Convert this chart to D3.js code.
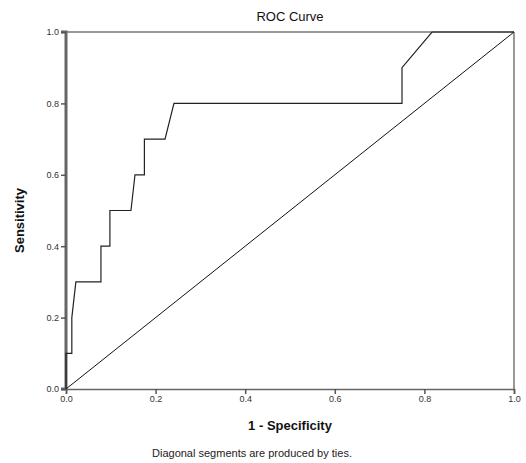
<!DOCTYPE html>
<html>
<head>
<meta charset="utf-8">
<script src="https://cdnjs.cloudflare.com/ajax/libs/d3/7.8.5/d3.min.js"></script>
<style>
  body { margin: 0; background: #fff; }
  text { font-family: Arial, "Liberation Sans", sans-serif; }
</style>
</head>
<body>
<div id="chart"></div>
<script>
// ROC curve points (1 - specificity, sensitivity)
var fpr = [0, 0, 0.013, 0.013, 0.022, 0.078, 0.078, 0.098, 0.098, 0.145, 0.154, 0.175, 0.175, 0.221, 0.241, 0.75, 0.75, 0.817, 1];
var tpr = [0, 0.1, 0.1, 0.2, 0.3, 0.3, 0.4, 0.4, 0.5, 0.5, 0.6, 0.6, 0.7, 0.7, 0.8, 0.8, 0.9, 1.0, 1.0];
var ticks = [0, 0.2, 0.4, 0.6, 0.8, 1.0];

var attrs = {
  width: 526,
  height: 463,
  margin: { top: 32, right: 12, bottom: 74, left: 66 }
};

var chartWidth = attrs.width - attrs.margin.left - attrs.margin.right;
var chartHeight = attrs.height - attrs.margin.top - attrs.margin.bottom;

var svg = d3.select('#chart').append('svg')
  .attr('width', attrs.width)
  .attr('height', attrs.height);

var chart = svg.append('g')
  .attr('transform', `translate(${attrs.margin.left}, ${attrs.margin.top})`);

var x = d3.scaleLinear().domain([0, 1]).range([0, chartWidth]);
var y = d3.scaleLinear().domain([0, 1]).range([chartHeight, 0]);

// frame
chart.append('line').attr('x1', 0).attr('x2', chartWidth).attr('y1', 0).attr('y2', 0)
  .attr('stroke', '#777').attr('stroke-width', 1.5);
chart.append('line').attr('x1', chartWidth).attr('x2', chartWidth).attr('y1', 0).attr('y2', chartHeight)
  .attr('stroke', '#777').attr('stroke-width', 1.5);

var xAxis = chart.append('g')
  .attr('transform', `translate(0, ${chartHeight})`)
  .call(d3.axisBottom(x).tickValues(ticks).tickFormat(d3.format('.1f')).tickSize(5).tickPadding(2));
var yAxis = chart.append('g')
  .call(d3.axisLeft(y).tickValues(ticks).tickFormat(d3.format('.1f')).tickSize(5).tickPadding(2));

[xAxis, yAxis].forEach(function (a) {
  a.select('.domain').attr('stroke', '#666').attr('stroke-width', 1.5);
  a.selectAll('.tick line').attr('stroke', '#555').attr('stroke-width', 1.5);
  a.selectAll('.tick text').attr('fill', '#333').style('font-size', '9px');
});
yAxis.select('.domain').attr('stroke-width', 3).attr('d', `M-5,${chartHeight}H0V0H-5`);

// reference diagonal
chart.append('line')
  .attr('x1', x(0)).attr('y1', y(0)).attr('x2', x(1)).attr('y2', y(1))
  .attr('stroke', '#111').attr('stroke-width', 1);

// curve
var line = d3.line().x(function (d) { return x(d[0]); }).y(function (d) { return y(d[1]); });
chart.append('path')
  .datum(d3.zip(fpr, tpr))
  .attr('fill', 'none')
  .attr('stroke', '#222')
  .attr('stroke-width', 1.2)
  .attr('d', line);

// texts
svg.append('text')
  .attr('x', attrs.margin.left + chartWidth / 2).attr('y', 21)
  .attr('text-anchor', 'middle').style('font-size', '13px').attr('fill', '#111')
  .text('ROC Curve');

svg.append('text')
  .attr('x', attrs.margin.left + chartWidth / 2).attr('y', 430)
  .attr('text-anchor', 'middle').style('font-size', '13px').style('font-weight', 'bold').attr('fill', '#111')
  .text('1 - Specificity');

svg.append('text')
  .attr('transform', `translate(24, ${attrs.margin.top + chartHeight / 2 + 10}) rotate(-90)`)
  .attr('text-anchor', 'middle').style('font-size', '13px').style('font-weight', 'bold').attr('fill', '#111')
  .text('Sensitivity');

svg.append('text')
  .attr('x', 252).attr('y', 457)
  .attr('text-anchor', 'middle').style('font-size', '11px').attr('fill', '#222')
  .text('Diagonal segments are produced by ties.');
</script>
</body>
</html>
